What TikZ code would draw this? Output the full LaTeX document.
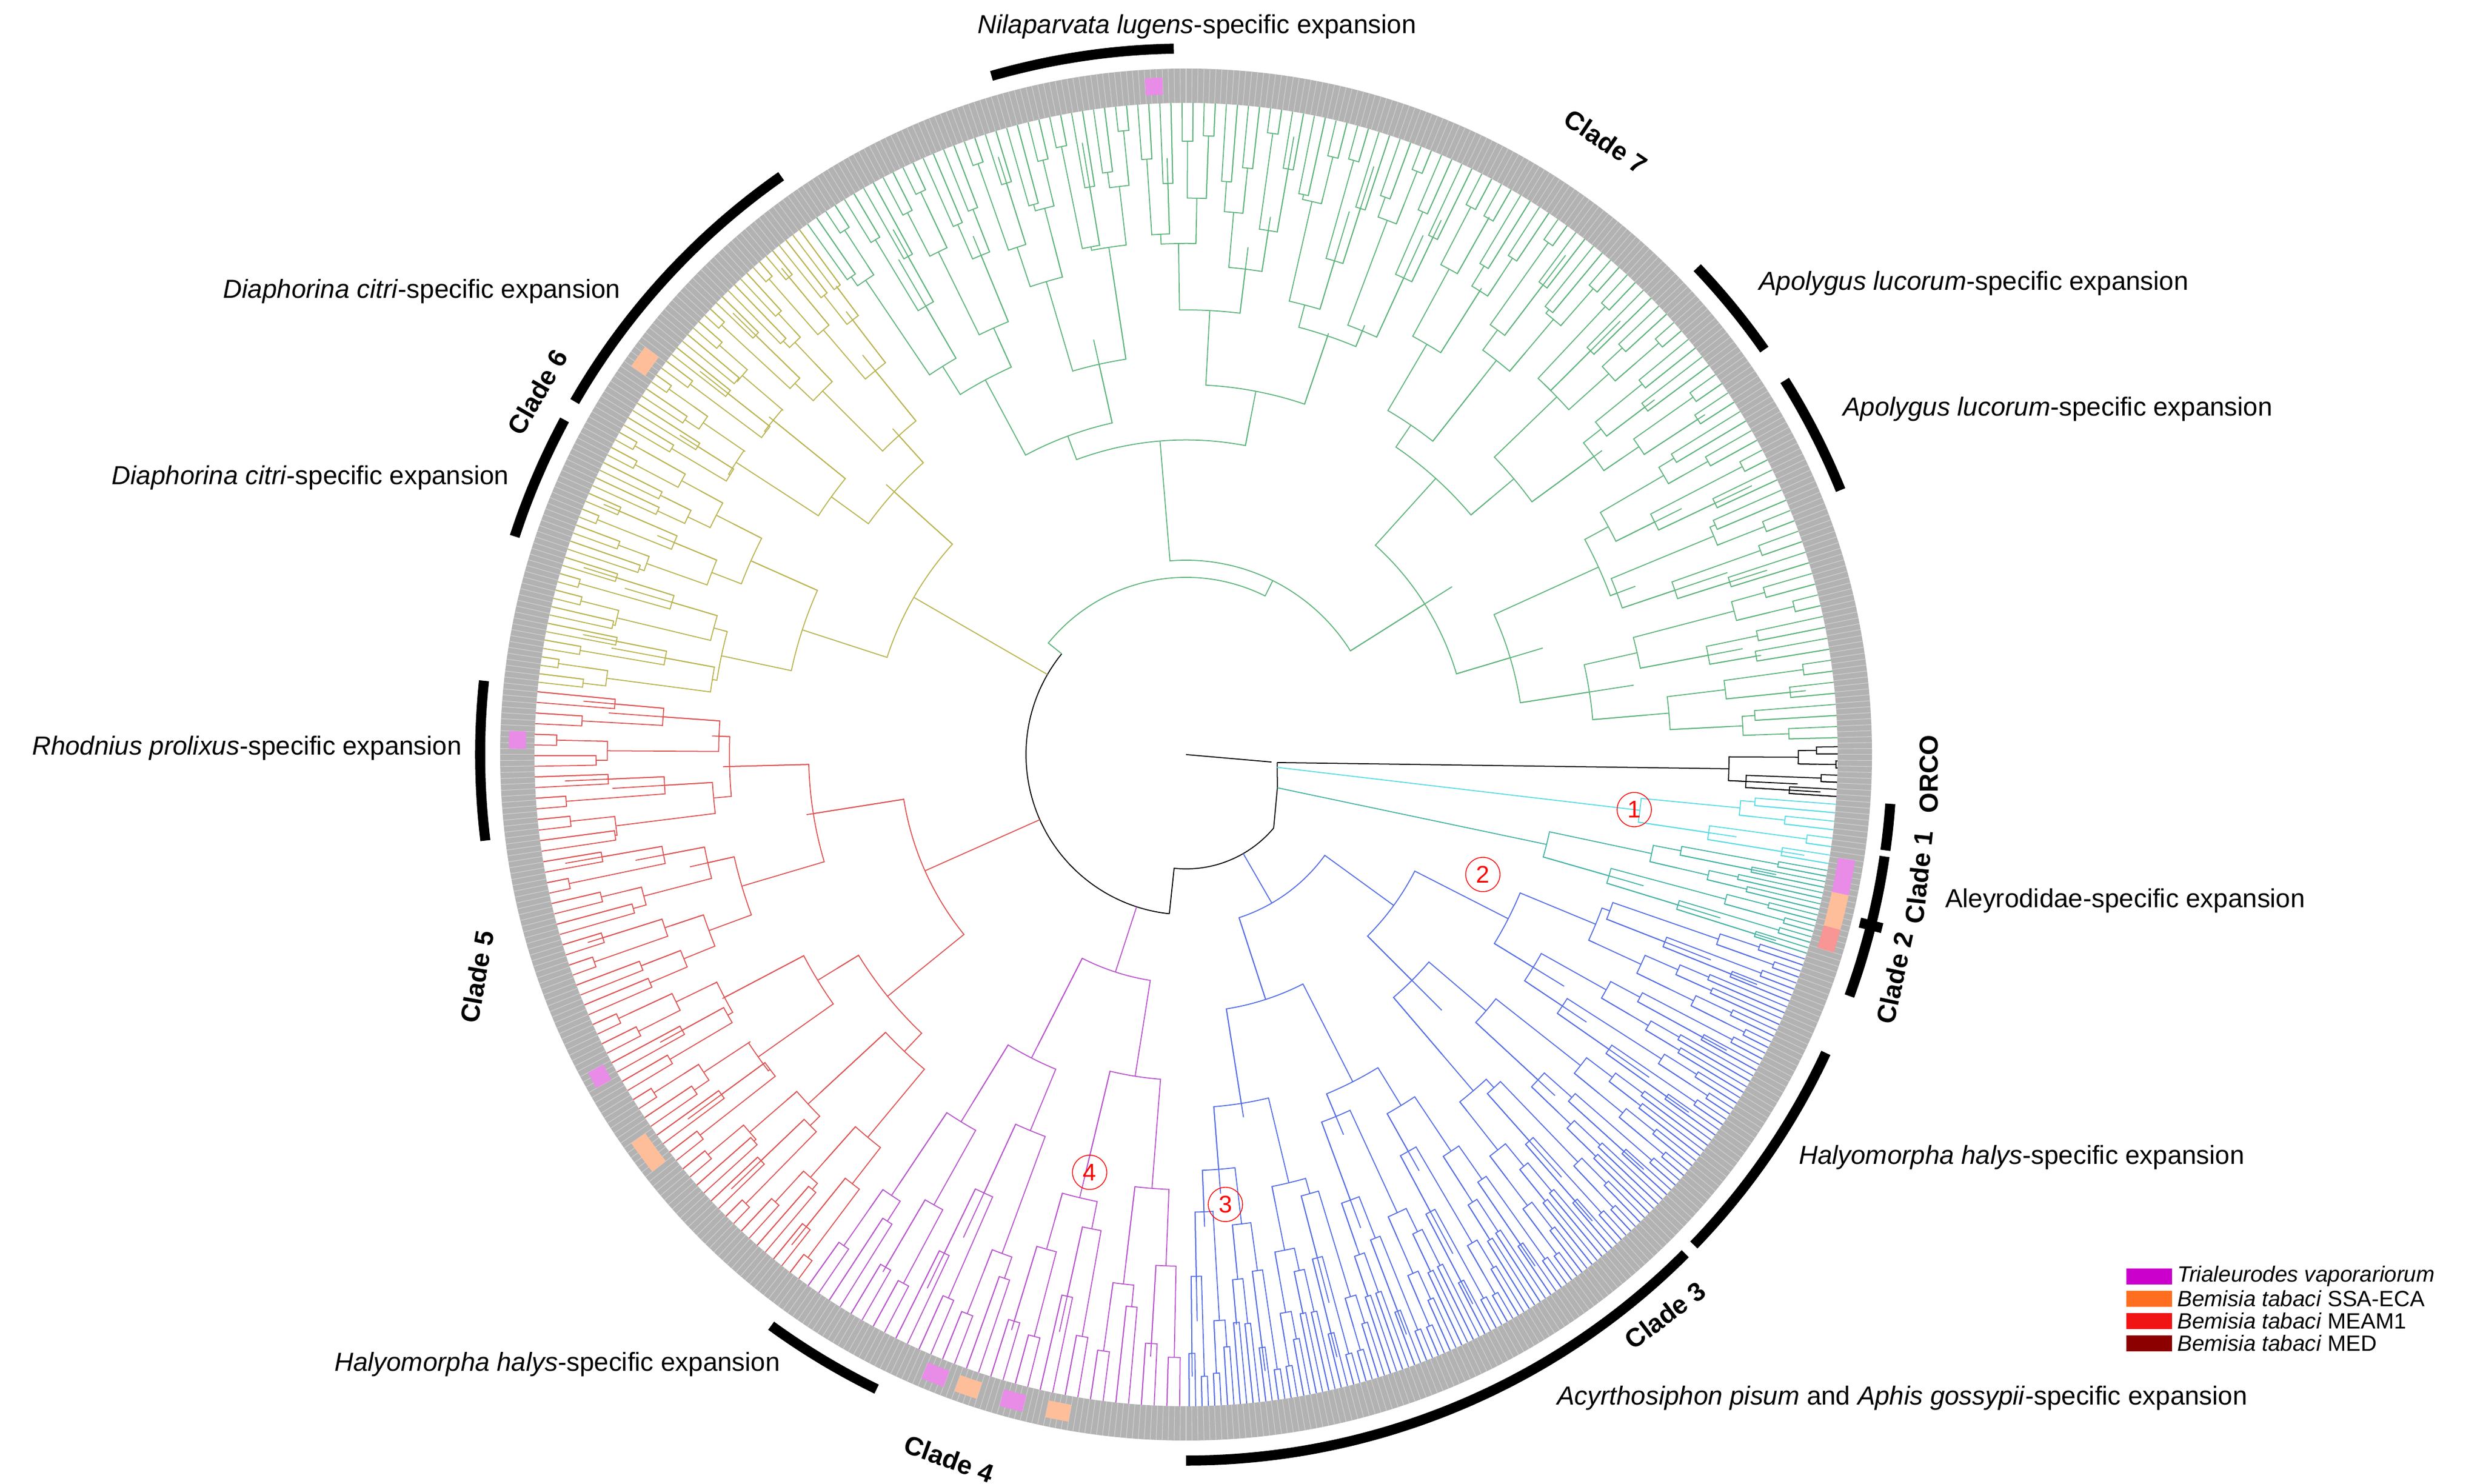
\documentclass[tikz,border=0pt]{standalone}
\usepackage{fontspec}
\setmainfont{Liberation Sans}
\definecolor{cgreen}{RGB}{95,180,125}
\definecolor{cyel}{RGB}{185,180,80}
\definecolor{cred}{RGB}{222,85,85}
\definecolor{cpur}{RGB}{185,85,205}
\definecolor{cblue}{RGB}{85,110,230}
\definecolor{cteal}{RGB}{70,180,165}
\definecolor{ccyan}{RGB}{90,220,230}
\definecolor{lmag}{RGB}{204,0,204}
\definecolor{lora}{RGB}{255,110,30}
\definecolor{lred}{RGB}{240,20,20}
\definecolor{ldred}{RGB}{140,0,0}
\tikzset{
  lab/.style={font=\fontsize{13}{15}\selectfont},
  cl/.style={font=\bfseries\fontsize{13}{15}\selectfont},
  bar/.style={line width=5pt},
  br/.style={line width=0.5pt},
  num/.style={circle,draw=red,text=red,inner sep=1pt,minimum size=0.6cm,font=\fontsize{12}{12}\selectfont},
}
% #1 a1, #2 a2, #3 colour, #4 depth, #5 r0, #6 rleaf
\newcommand\mkclade[6]{%
 \foreach \d in {0,...,\numexpr#4-1\relax}{%
  \pgfmathtruncatemacro\nn{2^\d}%
  \pgfmathsetmacro\w{(#2-#1)/\nn}%
  \foreach \k in {1,...,\nn}{%
   \pgfmathsetmacro\c{#1+(\k-0.5)*\w}%
   \pgfmathsetmacro\ca{\c-\w/4}%
   \pgfmathsetmacro\cb{\c+\w/4}%
   \pgfmathsetmacro\rd{#5+(#6-#5)*(\d/#4)^0.8+ifthenelse(\d>0,0.5*sin(\c*53+\d*71),0)}%
   \pgfmathsetmacro\rna{#5+(#6-#5)*((\d+1)/#4)^0.8+ifthenelse(\d+1<#4,0.5*sin(\ca*53+\d*71+71),0)}%
   \pgfmathsetmacro\rnb{#5+(#6-#5)*((\d+1)/#4)^0.8+ifthenelse(\d+1<#4,0.5*sin(\cb*53+\d*71+71),0)}%
   \draw[#3,br] (\ca:\rnb) -- (\ca:\rd) arc[start angle=\ca,end angle=\cb,radius=\rd] -- (\cb:\rnb);
   \draw[#3,br] (\ca:\rd) -- (\ca:\rna);
  }}}
\begin{document}
\begin{tikzpicture}
\useasboundingbox (0,0) rectangle (43.44,25.96);
\fill[white] (0,0) rectangle (43.44,25.96);
\begin{scope}[shift={(20.75,12.76)}]
 % ring of tip labels
 \draw[gray!60,line width=0.6cm] (0,0) circle (11.7);
 \foreach \a in {0,0.5,...,359.5} \draw[gray!35,line width=0.3pt] (\a:11.4) -- (\a:12.0);
 % coloured patches
 \foreach \a/\b/\c in {-9/-12/lmag,-12/-15/lora,-15/-17/lred,92/93.5/lmag,143/145/lora,178/179.5/lmag,208/209.5/lmag,215/218/lora,-100/-102/lora,-104/-106/lmag,-108/-110/lora,-111/-113/lmag}
   \draw[\c!45,line width=0.3cm] (\a:11.7) arc[start angle=\a,end angle=\b,radius=11.7];
 % clades
 \mkclade{1}{126}{cgreen}{7}{3.4}{11.4}
 \mkclade{126}{174}{cyel}{6}{5.5}{11.4}
 \mkclade{174}{234}{cred}{6}{5.0}{11.4}
 \mkclade{234}{270}{cpur}{5}{4.0}{11.4}
 \mkclade{-90}{-18}{cblue}{7}{3.0}{11.4}
 \mkclade{-18}{-10}{cteal}{4}{6.5}{11.4}
 \mkclade{-10}{-4}{ccyan}{3}{8.0}{11.4}
 \mkclade{-4}{1}{black}{3}{9.5}{11.4}
 % backbone
 \draw[black,br] (141:2.8) arc[start angle=141,end angle=264,radius=2.8];
 \draw[cgreen,br] (141:2.8) -- (141:3.1) arc[start angle=141,end angle=63.5,radius=3.1] -- (63.5:3.4);
 \draw[cyel,br] (150:2.8) -- (150:5.5);
 \draw[cred,br] (204:2.8) -- (204:5.0);
 \draw[cpur,br] (252:2.8) -- (252:4.0);
 \draw[black,br] (264:2.8) -- (264:2.0) arc[start angle=264,end angle=320,radius=2.0];
 \draw[cblue,br] (300:2.0) -- (300:3.0);
 \draw[black,br] (320:2.0) -- (340:1.7) -- (355:1.6);
 \draw[cteal,br] (340:1.7) -- (-14:6.5);
 \draw[ccyan,br] (352:1.6) -- (-7:8.0);
 \draw[black,br] (355:1.6) -- (-1.5:9.5);
 \draw[black,br] (0,0) -- (-5:1.5);
 % clade bars
 \foreach \a/\b in {91/106,35/43.6,22/32,125/150,151.7/162,174/187,-8.3/-20,-25/-44,-45/-90,-116/-126}
   \draw[bar] (\a:12.35) arc[start angle=\a,end angle=\b,radius=12.35];
 \draw[bar] (-14:12.15) -- (-14:12.55);
 \draw[bar] (-4:12.35) arc[start angle=-4,end angle=-7.8,radius=12.35];
 % clade labels
 \node[cl,rotate=-34] (c7) at (55.6:13.0) {Clade 7};
 \node[cl,rotate=60] (c6) at (150.8:13.0) {Clade 6};
 \node[cl,rotate=80] (c5) at (197.4:13.0) {Clade 5};
 \node[cl,rotate=-20] (c4) at (251.4:13.0) {Clade 4};
 \node[cl,rotate=37] (c3) at (-49.5:12.9) {Clade 3};
 \node[cl,rotate=78] (c2) at (-17.5:13.0) {Clade 2};
 \node[cl,rotate=84] (c1) at (-9.5:13.0) {Clade 1};
 \node[cl,rotate=90] (c0) at (-1.5:13.0) {ORCO};
 % circled numbers
 \node[num] (n1) at (-7:7.9) {1};
 \node[num] (n2) at (-22:5.6) {2};
 \node[num] (n3) at (-85:7.9) {3};
 \node[num] (n4) at (-103:7.5) {4};
\end{scope}
% labels
\node[lab] (t1) at (20.94,25.49) {\textit{Nilaparvata lugens}-specific expansion};
\node[lab] (t2) at (34.53,21.0) {\textit{Apolygus lucorum}-specific expansion};
\node[lab] (t3) at (36.0,18.8) {\textit{Apolygus lucorum}-specific expansion};
\node[lab] (t4) at (7.38,20.86) {\textit{Diaphorina citri}-specific expansion};
\node[lab] (t5) at (5.43,17.6) {\textit{Diaphorina citri}-specific expansion};
\node[lab] (t6) at (4.32,12.87) {\textit{Rhodnius prolixus}-specific expansion};
\node[lab] (t7) at (9.75,2.09) {\textit{Halyomorpha halys}-specific expansion};
\node[lab] (t8) at (33.28,1.5) {\textit{Acyrthosiphon pisum} and \textit{Aphis gossypii}-specific expansion};
\node[lab] (t9) at (35.37,5.71) {\textit{Halyomorpha halys}-specific expansion};
\node[lab] (t10) at (37.18,10.2) {Aleyrodidae-specific expansion};
% legend
\foreach \y/\c/\t in {3.63/lmag/\textit{Trialeurodes vaporariorum},3.24/lora/\textit{Bemisia tabaci} SSA-ECA,2.85/lred/\textit{Bemisia tabaci} MEAM1,2.46/ldred/\textit{Bemisia tabaci} MED}{
  \fill[\c] (37.2,\y-0.14) rectangle (38.0,\y+0.14);
  \node[anchor=west,inner sep=1pt,font=\fontsize{11}{12}\selectfont] at (38.05,\y) {\t};
}
\end{tikzpicture}
\end{document}
